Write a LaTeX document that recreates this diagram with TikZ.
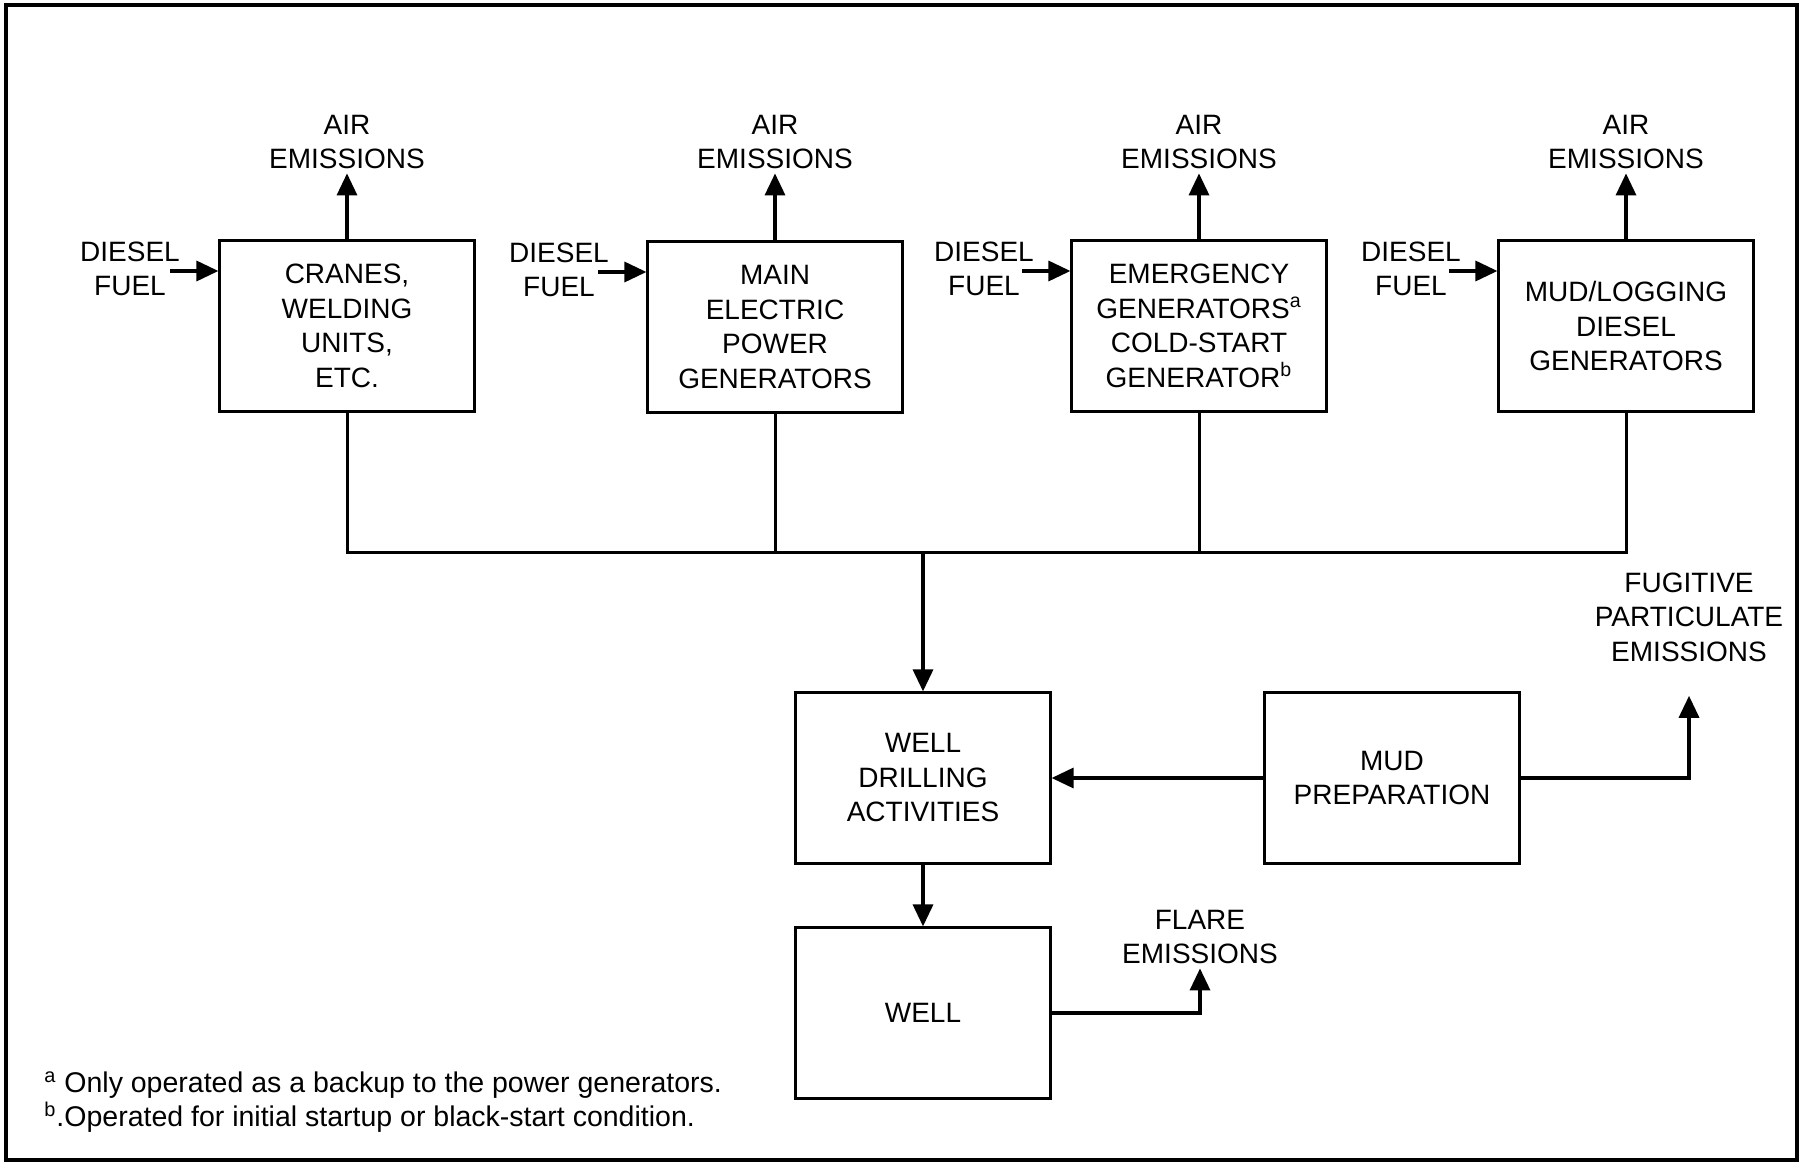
\documentclass[tikz,border=0pt]{standalone}
\usepackage{fontspec}
\setmainfont{Liberation Sans}
\usetikzlibrary{arrows.meta,calc}

\begin{document}
\begin{tikzpicture}[x=0.5pt,y=-0.5pt,
    font=\fontsize{14}{17.25}\selectfont,
    box/.style={draw,line width=1.1pt,minimum width=127.5pt,minimum height=85.5pt,align=center,inner sep=0pt},
    lbl/.style={align=center,inner sep=2pt},
    wire/.style={line width=1.5pt},
    flow/.style={line width=1.7pt,-{Triangle[length=11pt,width=10pt]}}]

      \useasboundingbox (0,0) rectangle (1803,1165);
      \draw[line width=1.6pt] (6,5) rectangle (1797,1160);

      \begin{scope}[every node/.style={box}]
        \node (cranes)  at (347,326)  {CRANES,\\WELDING\\UNITS,\\ETC.};
        \node (main)    at (775,327)  {MAIN\\ELECTRIC\\POWER\\GENERATORS};
        \node (emerg)   at (1199,326) {EMERGENCY\\GENERATORS\textsuperscript{a}\\COLD-START\\GENERATOR\textsuperscript{b}};
        \node (mudlog)  at (1626,326) {MUD/LOGGING\\DIESEL\\GENERATORS};
        \node (drill)   at (923,778)  {WELL\\DRILLING\\ACTIVITIES};
        \node (mudprep) at (1392,778) {MUD\\PREPARATION};
        \node (well)    at (923,1013) {WELL};
      \end{scope}

      \begin{scope}[every node/.style={lbl}]
        \node (air1)  at (347,142)  {AIR\\EMISSIONS};
        \node (air2)  at (775,142)  {AIR\\EMISSIONS};
        \node (air3)  at (1199,142) {AIR\\EMISSIONS};
        \node (air4)  at (1626,142) {AIR\\EMISSIONS};
        \node (fuel1) at (130,269)  {DIESEL\\FUEL};
        \node (fuel2) at (559,270)  {DIESEL\\FUEL};
        \node (fuel3) at (984,269)  {DIESEL\\FUEL};
        \node (fuel4) at (1411,269) {DIESEL\\FUEL};
        \node (fug)   at (1689,617) {FUGITIVE\\PARTICULATE\\EMISSIONS};
        \node (flare) at (1200,937) {FLARE\\EMISSIONS};
      \end{scope}

      \node[anchor=west,align=left,inner sep=0pt,font=\fontsize{14.25}{17}\selectfont] (notes) at (44,1102)
        {\textsuperscript{a} Only operated as a backup to the power generators.\\
         \textsuperscript{b}.Operated for initial startup or black-start condition.};

      \coordinate (bus) at (923,552);

      \begin{scope}[every path/.style={flow}]
        \path (cranes) edge (air1.south);
        \path (main)   edge (air2.south);
        \path (emerg)  edge (air3.south);
        \path (mudlog) edge (air4.south);
        \path ($(cranes.west)+(-48,-55)$) edge ($(cranes.west)+(0,-55)$);
        \path ($(main.west)+(-48,-55)$)   edge ($(main.west)+(0,-55)$);
        \path ($(emerg.west)+(-48,-55)$)  edge ($(emerg.west)+(0,-55)$);
        \path ($(mudlog.west)+(-48,-55)$) edge ($(mudlog.west)+(0,-55)$);
        \path (bus) edge (drill.north);
        \path (mudprep.west) edge (drill.east);
        \path (drill.south) edge (well.north);
      \end{scope}

      \draw[flow] (mudprep.east) -| ($(fug.south)+(0,30)$);
      \draw[flow] (well.east) -| (flare.south);

      \draw[wire] (cranes.south) |- (bus) -| (mudlog.south);
      \draw[wire] (main.south) -- (main.south |- bus);
      \draw[wire] (emerg.south) -- (emerg.south |- bus);

    \end{tikzpicture}
\end{document}
